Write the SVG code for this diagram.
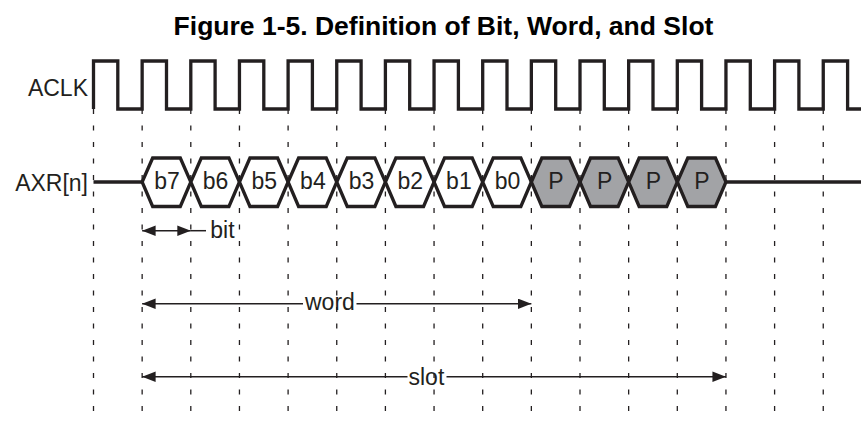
<svg xmlns="http://www.w3.org/2000/svg" width="861" height="421" viewBox="0 0 861 421">
  <defs>
    <style>
      .txt { font-family: "Liberation Sans", Arial, sans-serif; font-size: 23px; fill: #231f20; }
      .title { font-family: "Liberation Sans", Arial, sans-serif; font-size: 26.5px; font-weight: bold; fill: #000; }
      .grid line { stroke: #231f20; stroke-width: 1.3; stroke-dasharray: 5 11.5; }
      .wave { fill: none; stroke: #231f20; stroke-width: 3.3; stroke-linejoin: miter; }
      .hex { stroke: #231f20; stroke-width: 3.3; stroke-linejoin: miter; }
      .bit { fill: #ffffff; }
      .pad { fill: #a2a3a6; }
      .dim { stroke: #231f20; stroke-width: 1.5; fill: none; }
      .mid { text-anchor: middle; }
    </style>
    <marker id="ah" markerUnits="userSpaceOnUse" markerWidth="14" markerHeight="11" refX="13.5" refY="5.25" orient="auto-start-reverse">
      <path d="M0,0 L13.5,5.25 L0,10.5 z" fill="#231f20"/>
    </marker>
  </defs>

  <rect x="0" y="0" width="861" height="421" fill="#ffffff"/>

  <g id="title">
    <text class="title" x="443.5" y="35" text-anchor="middle">Figure 1-5. Definition of Bit, Word, and Slot</text>
  </g>

  <g id="grid" class="grid">
    <line x1="93.5" y1="109" x2="93.5" y2="411"/>
    <line x1="142.15" y1="109" x2="142.15" y2="411"/>
    <line x1="190.8" y1="109" x2="190.8" y2="411"/>
    <line x1="239.45" y1="109" x2="239.45" y2="411"/>
    <line x1="288.1" y1="109" x2="288.1" y2="411"/>
    <line x1="336.75" y1="109" x2="336.75" y2="411"/>
    <line x1="385.4" y1="109" x2="385.4" y2="411"/>
    <line x1="434.05" y1="109" x2="434.05" y2="411"/>
    <line x1="482.7" y1="109" x2="482.7" y2="411"/>
    <line x1="531.35" y1="109" x2="531.35" y2="411"/>
    <line x1="580" y1="109" x2="580" y2="411"/>
    <line x1="628.65" y1="109" x2="628.65" y2="411"/>
    <line x1="677.3" y1="109" x2="677.3" y2="411"/>
    <line x1="725.95" y1="109" x2="725.95" y2="411"/>
    <line x1="774.6" y1="109" x2="774.6" y2="411"/>
    <line x1="823.25" y1="109" x2="823.25" y2="411"/>
  </g>

  <g id="aclk">
    <text class="txt" x="88" y="96" text-anchor="end">ACLK</text>
    <path class="wave" d="M93.5,109 V61 H117.8 V109 H142.15 V61 H166.5 V109 H190.8 V61 H215.1 V109 H239.45 V61 H263.8 V109 H288.1 V61 H312.4 V109 H336.75 V61 H361.1 V109 H385.4 V61 H409.7 V109 H434.05 V61 H458.4 V109 H482.7 V61 H507 V109 H531.35 V61 H555.7 V109 H580 V61 H604.3 V109 H628.65 V61 H653 V109 H677.3 V61 H701.6 V109 H725.95 V61 H750.3 V109 H774.6 V61 H798.9 V109 H823.25 V61 H847.6 V109 H864"/>
  </g>

  <g id="axr">
    <text class="txt" x="88" y="191" text-anchor="end">AXR[n]</text>
    <path class="wave" d="M93.5,182 H142.15 M725.95,182 H864"/>
  </g>

  <g id="b7"><polygon class="hex bit" points="142.15,182 152.65,158 180.3,158 190.8,182 180.3,206.5 152.65,206.5"/><text class="txt mid" x="167" y="188.5">b7</text></g>
  <g id="b6"><polygon class="hex bit" points="190.8,182 201.3,158 228.95,158 239.45,182 228.95,206.5 201.3,206.5"/><text class="txt mid" x="215.6" y="188.5">b6</text></g>
  <g id="b5"><polygon class="hex bit" points="239.45,182 249.95,158 277.6,158 288.1,182 277.6,206.5 249.95,206.5"/><text class="txt mid" x="264.3" y="188.5">b5</text></g>
  <g id="b4"><polygon class="hex bit" points="288.1,182 298.6,158 326.25,158 336.75,182 326.25,206.5 298.6,206.5"/><text class="txt mid" x="312.9" y="188.5">b4</text></g>
  <g id="b3"><polygon class="hex bit" points="336.75,182 347.25,158 374.9,158 385.4,182 374.9,206.5 347.25,206.5"/><text class="txt mid" x="361.6" y="188.5">b3</text></g>
  <g id="b2"><polygon class="hex bit" points="385.4,182 395.9,158 423.55,158 434.05,182 423.55,206.5 395.9,206.5"/><text class="txt mid" x="410.2" y="188.5">b2</text></g>
  <g id="b1"><polygon class="hex bit" points="434.05,182 444.55,158 472.2,158 482.7,182 472.2,206.5 444.55,206.5"/><text class="txt mid" x="458.9" y="188.5">b1</text></g>
  <g id="b0"><polygon class="hex bit" points="482.7,182 493.2,158 520.85,158 531.35,182 520.85,206.5 493.2,206.5"/><text class="txt mid" x="507.5" y="188.5">b0</text></g>
  <g id="p1"><polygon class="hex pad" points="531.35,182 541.85,158 569.5,158 580,182 569.5,206.5 541.85,206.5"/><text class="txt mid" x="556" y="188.5">P</text></g>
  <g id="p2"><polygon class="hex pad" points="580,182 590.5,158 618.15,158 628.65,182 618.15,206.5 590.5,206.5"/><text class="txt mid" x="604.6" y="188.5">P</text></g>
  <g id="p3"><polygon class="hex pad" points="628.65,182 639.15,158 666.8,158 677.3,182 666.8,206.5 639.15,206.5"/><text class="txt mid" x="653.3" y="188.5">P</text></g>
  <g id="p4"><polygon class="hex pad" points="677.3,182 687.8,158 715.45,158 725.95,182 715.45,206.5 687.8,206.5"/><text class="txt mid" x="701.9" y="188.5">P</text></g>

  <g id="connectors">
    <line class="dim" x1="142.15" y1="230.7" x2="190.8" y2="230.7" marker-start="url(#ah)" marker-end="url(#ah)"/>
    <line class="dim" x1="190.8" y1="230.7" x2="206" y2="230.7"/>
    <line class="dim" x1="142.15" y1="303.8" x2="303" y2="303.8" marker-start="url(#ah)"/>
    <line class="dim" x1="356.5" y1="303.8" x2="531.35" y2="303.8" marker-end="url(#ah)"/>
    <line class="dim" x1="142.15" y1="376.7" x2="407.5" y2="376.7" marker-start="url(#ah)"/>
    <line class="dim" x1="446.5" y1="376.7" x2="725.95" y2="376.7" marker-end="url(#ah)"/>
  </g>

  <g id="labels">
    <text class="txt" x="210.3" y="237.7">bit</text>
    <text class="txt" x="305" y="310.3">word</text>
    <text class="txt" x="408.5" y="384.5">slot</text>
  </g>
</svg>
